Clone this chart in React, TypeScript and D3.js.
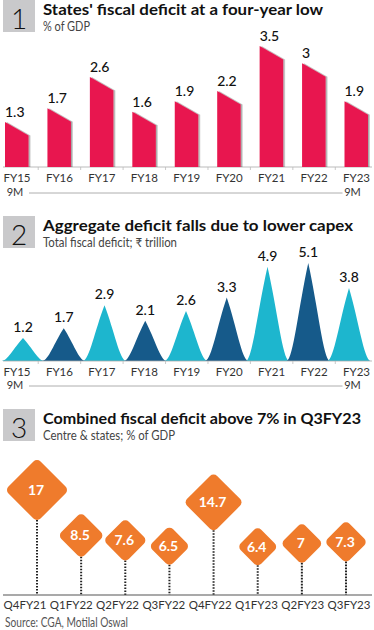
import React from "react";
import * as d3 from "d3";

const FY = ["FY15", "FY16", "FY17", "FY18", "FY19", "FY20", "FY21", "FY22", "FY23"];
const statesDeficit = [1.3, 1.7, 2.6, 1.6, 1.9, 2.2, 3.5, 3, 1.9];
const aggregateDeficit = [1.2, 1.7, 2.9, 2.1, 2.6, 3.3, 4.9, 5.1, 3.8];
const quarters = ["Q4FY21", "Q1FY22", "Q2FY22", "Q3FY22", "Q4FY22", "Q1FY23", "Q2FY23", "Q3FY23"];
const combinedDeficit = [17, 8.5, 7.6, 6.5, 14.7, 6.4, 7, 7.3];

const titles = [
  "States' fiscal deficit at a four-year low",
  "Aggregate deficit falls due to lower capex",
  "Combined fiscal deficit above 7% in Q3FY23",
];
const subtitles = ["% of GDP", "Total fiscal deficit; \u20b9 trillion", "Centre & states; % of GDP"];
const source = "Source: CGA, Motilal Oswal";

const W = 374;
const H = 630;
const FONT = "Lato, 'Noto Sans', sans-serif";
const PINK = "#e8184f";
const CYAN = "#1db6ce";
const NAVY = "#165a8a";
const ORANGE = "#ef7b2c";

function Header({ n, y, title, sub, tlen, slen }: { n: number; y: number; title: string; sub: string; tlen: number; slen: number }) {
  return (
    <g transform={`translate(0,${y})`}>
      <rect x={3} y={0} width={32} height={32} fill="#c9c9cb" />
      <text x={19} y={29} textAnchor="middle" fontFamily={FONT} fontWeight={300} fontSize={28} fill="#111">
        {n}
      </text>
      <text x={43} y={15} fontFamily={FONT} fontWeight={700} fontSize={16} fill="#111" textLength={tlen} lengthAdjust="spacingAndGlyphs">
        {title}
      </text>
      <text x={43} y={30.5} fontFamily={FONT} fontSize={12.5} fill="#444" textLength={slen} lengthAdjust="spacingAndGlyphs">
        {sub}
      </text>
    </g>
  );
}

function NineM({ y, x }: { y: number; x: d3.ScalePoint<string> }) {
  const x0 = x(FY[0])!;
  const x1 = x(FY[FY.length - 1])!;
  return (
    <g>
      <text x={x0 - 2} y={y} textAnchor="middle" fontFamily={FONT} fontSize={11} fill="#333">9M</text>
      <text x={x1 - 4} y={y} textAnchor="middle" fontFamily={FONT} fontSize={11} fill="#333">9M</text>
      <line x1={x0 + 12} x2={x1 - 14} y1={y - 3} y2={y - 3} stroke="#999" strokeWidth={0.8} />
    </g>
  );
}

export default function App() {
  // Panel 1
  const base1 = 167;
  const xLab = d3.scalePoint<string>().domain(FY).range([17, 356.5]);
  const step = xLab.step();
  const y1 = d3.scaleLinear().domain([0, 3.5]).range([base1, 46]);
  const barW = 23.5;
  const slant = 13.5;

  // Panel 2
  const base2 = 361;
  const xPeak = d3.scalePoint<string>().domain(FY).range([23, 349]);
  const y2 = d3.scaleLinear().domain([0, 5.1]).range([base2, 263]);
  const hw = 21.5;

  // Panel 3
  const base3 = 595;
  const xQLab = d3.scalePoint<string>().domain(quarters).range([25, 349]);
  const xQ = d3.scalePoint<string>().domain(quarters).range([37, 346]);
  const yC = d3.scaleLinear().domain([0, 17]).range([581, 490]);
  const rS = d3.scaleSqrt().domain([0, 17]).range([0, 30]);
  const rx = 5;

  const hornPath = (cx: number, py: number) => {
    const h = base2 - py;
    const x0 = cx - hw;
    const x1 = cx + hw;
    return `M${x0},${base2} C${x0 + 0.3 * hw},${base2 - 0.02 * h} ${x0 + 0.55 * hw},${base2 - 0.55 * h} ${cx},${py} C${cx + 0.45 * hw},${base2 - 0.55 * h} ${cx + 0.7 * hw},${base2 - 0.02 * h} ${x1},${base2} Z`;
  };

  return (
    <svg width={W} height={H} style={{ position: "absolute", left: 0, top: 0, display: "block" }}>
      <defs>
        <filter id="bshadow" x="-20%" y="-10%" width="150%" height="120%">
          <feDropShadow dx={1.6} dy={0} stdDeviation={0.7} floodColor="#000" floodOpacity={0.35} />
        </filter>
      </defs>
      <rect width={W} height={H} fill="#fff" />

      {/* Panel 1 */}
      <Header n={1} y={0} title={titles[0]} sub={subtitles[0]} tlen={280} slen={47} />
      <line x1={3} x2={372} y1={base1} y2={base1} stroke="#aaa" strokeWidth={0.8} />
      {FY.slice(0, -1).map((f) => (
        <line key={f} x1={xLab(f)! + step / 2} x2={xLab(f)! + step / 2} y1={base1} y2={base1 + 3} stroke="#bbb" strokeWidth={0.8} />
      ))}
      {FY.map((f, i) => {
        const xl = xLab(f)! - 12;
        const top = y1(statesDeficit[i]);
        return (
          <g key={f}>
            <path
              d={`M${xl},${base1} L${xl},${top} L${xl + barW},${top + slant} L${xl + barW},${base1} Z`}
              fill={PINK}
              filter="url(#bshadow)"
            />
            <text x={xl} y={top - 5} fontFamily={FONT} fontWeight={500} fontSize={14} fill="#111">
              {statesDeficit[i]}
            </text>
            <text x={xLab(f)} y={182} textAnchor="middle" fontFamily={FONT} fontSize={11.5} fill="#333">
              {f}
            </text>
          </g>
        );
      })}
      <NineM y={196} x={xLab} />

      {/* Panel 2 */}
      <Header n={2} y={216} title={titles[1]} sub={subtitles[1]} tlen={310} slen={134} />
      {FY.map((f, i) => (
        <path key={f} d={hornPath(xPeak(f)!, y2(aggregateDeficit[i]))} fill={i % 2 === 0 ? CYAN : NAVY} />
      ))}
      <line x1={3} x2={372} y1={base2} y2={base2} stroke="#aaa" strokeWidth={0.8} />
      {FY.slice(0, -1).map((f) => (
        <line key={f} x1={xLab(f)! + step / 2} x2={xLab(f)! + step / 2} y1={base2} y2={base2 + 3} stroke="#bbb" strokeWidth={0.8} />
      ))}
      {FY.map((f, i) => (
        <g key={f}>
          <text x={xPeak(f)} y={y2(aggregateDeficit[i]) - 6} textAnchor="middle" fontFamily={FONT} fontWeight={500} fontSize={14} fill="#111">
            {aggregateDeficit[i]}
          </text>
          <text x={xLab(f)} y={376} textAnchor="middle" fontFamily={FONT} fontSize={11.5} fill="#333">
            {f}
          </text>
        </g>
      ))}
      <NineM y={389} x={xLab} />

      {/* Panel 3 */}
      <Header n={3} y={409} title={titles[2]} sub={subtitles[2]} tlen={318} slen={132} />
      {quarters.map((q, i) => {
        const v = combinedDeficit[i];
        const cx = xQ(q)!;
        const cy = yC(v);
        const h = rS(v);
        const s = Math.SQRT2 * (h + rx * (Math.SQRT2 - 1));
        return (
          <g key={q}>
            <line x1={cx} x2={cx} y1={cy + h} y2={base3} stroke="#222" strokeWidth={2} strokeDasharray="1.6,1.4" />
            <rect
              x={-s / 2}
              y={-s / 2}
              width={s}
              height={s}
              rx={rx}
              fill={ORANGE}
              transform={`translate(${cx},${cy}) rotate(45)`}
            />
            <text x={cx - 1} y={cy} dy="0.35em" textAnchor="middle" fontFamily={FONT} fontWeight={700} fontSize={14} fill="#fff">
              {v}
            </text>
            <text x={xQLab(q)} y={609} textAnchor="middle" fontFamily={FONT} fontSize={11.5} fill="#333">
              {q}
            </text>
          </g>
        );
      })}
      <line x1={3} x2={372} y1={base3} y2={base3} stroke="#555" strokeWidth={1.2} />
      <text x={5} y={627} fontFamily={FONT} fontSize={12.5} fill="#555" textLength={123} lengthAdjust="spacingAndGlyphs">
        {source}
      </text>
    </svg>
  );
}
